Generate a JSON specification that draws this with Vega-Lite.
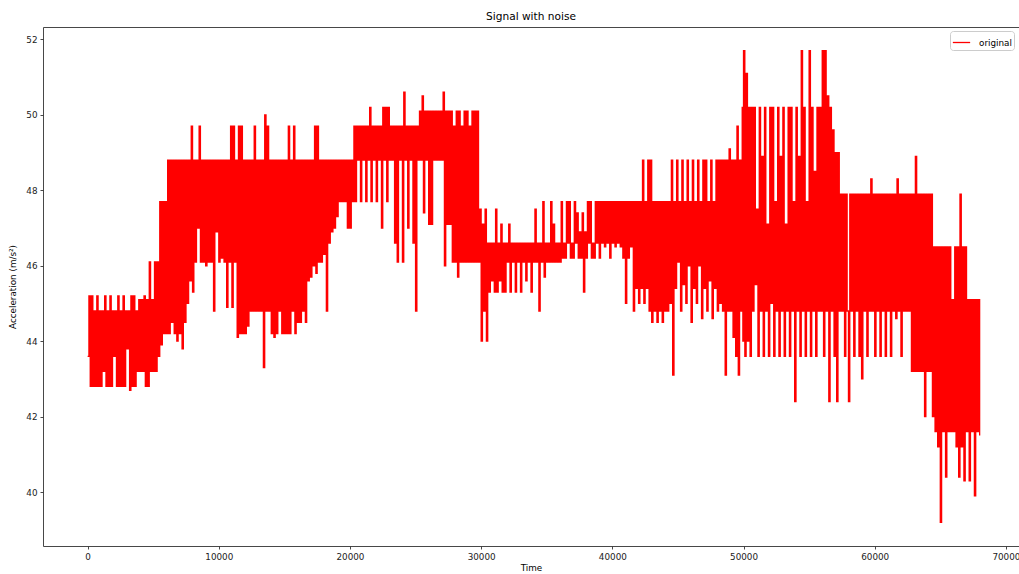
{
  "$schema": "https://vega.github.io/schema/vega-lite/v6.json",
  "width": 976,
  "height": 519,
  "autosize": {"type": "none"},
  "padding": {"left": 43, "top": 27, "right": 0, "bottom": 28},
  "background": "#ffffff",
  "title": {"text": "Signal with noise", "font": "DejaVu Sans", "fontSize": 10.6, "fontWeight": "normal", "color": "#000000", "offset": 4, "anchor": "middle"},
  "config": {
    "view": {"stroke": null},
    "axis": {"grid": false, "domainColor": "#333333", "domainWidth": 0.9, "tickColor": "#333333", "tickWidth": 0.9, "tickSize": 3, "labelFont": "DejaVu Sans", "labelFontSize": 8.8, "labelColor": "#222222", "labelPadding": 3, "titleFont": "DejaVu Sans", "titleFontSize": 8.8, "titleFontWeight": "normal", "titleColor": "#000000"}
  },
  "data": {"values": [
    {"time":0,"acc":43.6},{"time":100,"acc":45.2},{"time":200,"acc":42.8},{"time":300,"acc":45.2},{"time":400,"acc":42.8},{"time":500,"acc":44.8},{"time":600,"acc":42.8},{"time":700,"acc":45.2},{"time":800,"acc":42.8},{"time":900,"acc":44.8},
    {"time":1000,"acc":42.8},{"time":1100,"acc":44.8},{"time":1200,"acc":43.2},{"time":1300,"acc":45.2},{"time":1400,"acc":42.8},{"time":1500,"acc":44.8},{"time":1600,"acc":42.8},{"time":1700,"acc":45.2},{"time":1800,"acc":42.8},{"time":1900,"acc":44.8},
    {"time":2000,"acc":43.6},{"time":2100,"acc":44.8},{"time":2200,"acc":42.8},{"time":2300,"acc":45.2},{"time":2400,"acc":42.8},{"time":2500,"acc":44.8},{"time":2600,"acc":42.8},{"time":2700,"acc":45.2},{"time":2800,"acc":42.8},{"time":2900,"acc":44.8},
    {"time":3000,"acc":43.8},{"time":3100,"acc":44.8},{"time":3200,"acc":42.7},{"time":3300,"acc":45.2},{"time":3400,"acc":42.8},{"time":3500,"acc":45.2},{"time":3600,"acc":42.8},{"time":3700,"acc":44.8},{"time":3800,"acc":43.2},{"time":3900,"acc":45.1},
    {"time":4000,"acc":43.2},{"time":4100,"acc":45.1},{"time":4200,"acc":43.2},{"time":4300,"acc":45.2},{"time":4400,"acc":42.8},{"time":4500,"acc":45.1},{"time":4600,"acc":42.8},{"time":4700,"acc":46.1},{"time":4800,"acc":43.2},{"time":4900,"acc":45.1},
    {"time":5000,"acc":43.2},{"time":5100,"acc":46.1},{"time":5200,"acc":43.2},{"time":5300,"acc":46.1},{"time":5400,"acc":43.6},{"time":5500,"acc":47.7},{"time":5600,"acc":43.9},{"time":5700,"acc":47.7},{"time":5800,"acc":44.2},{"time":5900,"acc":47.7},
    {"time":6000,"acc":44.2},{"time":6100,"acc":48.8},{"time":6200,"acc":44.2},{"time":6300,"acc":48.8},{"time":6400,"acc":44.5},{"time":6500,"acc":48.8},{"time":6600,"acc":44.2},{"time":6700,"acc":48.8},{"time":6800,"acc":44.0},{"time":6900,"acc":48.8},
    {"time":7000,"acc":44.2},{"time":7100,"acc":48.8},{"time":7200,"acc":43.8},{"time":7300,"acc":48.8},{"time":7400,"acc":44.5},{"time":7500,"acc":48.8},{"time":7600,"acc":45.0},{"time":7700,"acc":48.8},{"time":7800,"acc":45.6},{"time":7900,"acc":49.7},
    {"time":8000,"acc":45.3},{"time":8100,"acc":48.8},{"time":8200,"acc":46.1},{"time":8300,"acc":48.8},{"time":8400,"acc":47.0},{"time":8500,"acc":49.7},{"time":8600,"acc":46.1},{"time":8700,"acc":48.8},{"time":8800,"acc":46.1},{"time":8900,"acc":48.8},
    {"time":9000,"acc":46.0},{"time":9100,"acc":48.8},{"time":9200,"acc":46.1},{"time":9300,"acc":48.8},{"time":9400,"acc":46.1},{"time":9500,"acc":48.8},{"time":9600,"acc":44.8},{"time":9700,"acc":48.8},{"time":9800,"acc":46.9},{"time":9900,"acc":48.8},
    {"time":10000,"acc":46.1},{"time":10100,"acc":48.8},{"time":10200,"acc":46.2},{"time":10300,"acc":48.8},{"time":10400,"acc":46.1},{"time":10500,"acc":48.8},{"time":10600,"acc":44.9},{"time":10700,"acc":48.8},{"time":10800,"acc":46.1},{"time":10900,"acc":49.7},
    {"time":11000,"acc":44.9},{"time":11100,"acc":49.7},{"time":11200,"acc":46.1},{"time":11300,"acc":48.8},{"time":11400,"acc":44.1},{"time":11500,"acc":49.7},{"time":11600,"acc":44.2},{"time":11700,"acc":49.7},{"time":11800,"acc":44.2},{"time":11900,"acc":48.8},
    {"time":12000,"acc":44.2},{"time":12100,"acc":48.8},{"time":12200,"acc":44.4},{"time":12300,"acc":48.8},{"time":12400,"acc":44.8},{"time":12500,"acc":48.8},{"time":12600,"acc":44.8},{"time":12700,"acc":49.7},{"time":12800,"acc":44.8},{"time":12900,"acc":48.8},
    {"time":13000,"acc":44.8},{"time":13100,"acc":48.8},{"time":13200,"acc":44.8},{"time":13300,"acc":48.8},{"time":13400,"acc":43.3},{"time":13500,"acc":50.0},{"time":13600,"acc":44.8},{"time":13700,"acc":49.7},{"time":13800,"acc":44.8},{"time":13900,"acc":48.8},
    {"time":14000,"acc":44.2},{"time":14100,"acc":48.8},{"time":14200,"acc":44.1},{"time":14300,"acc":48.8},{"time":14400,"acc":44.2},{"time":14500,"acc":48.8},{"time":14600,"acc":44.8},{"time":14700,"acc":48.8},{"time":14800,"acc":44.2},{"time":14900,"acc":48.8},
    {"time":15000,"acc":44.2},{"time":15100,"acc":48.8},{"time":15200,"acc":44.2},{"time":15300,"acc":49.7},{"time":15400,"acc":44.2},{"time":15500,"acc":48.8},{"time":15600,"acc":44.8},{"time":15700,"acc":49.7},{"time":15800,"acc":44.2},{"time":15900,"acc":48.8},
    {"time":16000,"acc":44.5},{"time":16100,"acc":48.8},{"time":16200,"acc":44.5},{"time":16300,"acc":48.8},{"time":16400,"acc":44.8},{"time":16500,"acc":48.8},{"time":16600,"acc":44.5},{"time":16700,"acc":48.8},{"time":16800,"acc":45.6},{"time":16900,"acc":48.8},
    {"time":17000,"acc":45.7},{"time":17100,"acc":48.8},{"time":17200,"acc":46.0},{"time":17300,"acc":49.7},{"time":17400,"acc":45.8},{"time":17500,"acc":49.7},{"time":17600,"acc":46.1},{"time":17700,"acc":48.8},{"time":17800,"acc":46.1},{"time":17900,"acc":48.8},
    {"time":18000,"acc":46.3},{"time":18100,"acc":48.8},{"time":18200,"acc":44.8},{"time":18300,"acc":48.8},{"time":18400,"acc":46.6},{"time":18500,"acc":48.8},{"time":18600,"acc":46.9},{"time":18700,"acc":48.8},{"time":18800,"acc":47.0},{"time":18900,"acc":48.8},
    {"time":19000,"acc":47.3},{"time":19100,"acc":48.8},{"time":19200,"acc":47.7},{"time":19300,"acc":48.8},{"time":19400,"acc":47.7},{"time":19500,"acc":48.8},{"time":19600,"acc":47.7},{"time":19700,"acc":48.8},{"time":19800,"acc":47.0},{"time":19900,"acc":48.8},
    {"time":20000,"acc":47.0},{"time":20100,"acc":48.8},{"time":20200,"acc":47.7},{"time":20300,"acc":49.7},{"time":20400,"acc":47.7},{"time":20500,"acc":49.7},{"time":20600,"acc":48.8},{"time":20700,"acc":49.7},{"time":20800,"acc":47.7},{"time":20900,"acc":49.7},
    {"time":21000,"acc":48.8},{"time":21100,"acc":49.7},{"time":21200,"acc":47.7},{"time":21300,"acc":49.7},{"time":21400,"acc":48.8},{"time":21500,"acc":50.2},{"time":21600,"acc":47.7},{"time":21700,"acc":49.7},{"time":21800,"acc":48.8},{"time":21900,"acc":49.7},
    {"time":22000,"acc":47.7},{"time":22100,"acc":49.7},{"time":22200,"acc":48.8},{"time":22300,"acc":49.7},{"time":22400,"acc":47.0},{"time":22500,"acc":50.2},{"time":22600,"acc":48.8},{"time":22700,"acc":50.2},{"time":22800,"acc":47.7},{"time":22900,"acc":50.2},
    {"time":23000,"acc":48.8},{"time":23100,"acc":49.7},{"time":23200,"acc":48.8},{"time":23300,"acc":49.7},{"time":23400,"acc":46.6},{"time":23500,"acc":49.7},{"time":23600,"acc":46.1},{"time":23700,"acc":49.7},{"time":23800,"acc":48.8},{"time":23900,"acc":49.7},
    {"time":24000,"acc":46.1},{"time":24100,"acc":50.6},{"time":24200,"acc":48.8},{"time":24300,"acc":49.7},{"time":24400,"acc":47.0},{"time":24500,"acc":49.7},{"time":24600,"acc":48.8},{"time":24700,"acc":49.7},{"time":24800,"acc":46.6},{"time":24900,"acc":49.7},
    {"time":25000,"acc":44.8},{"time":25100,"acc":49.7},{"time":25200,"acc":48.8},{"time":25300,"acc":50.1},{"time":25400,"acc":48.8},{"time":25500,"acc":50.5},{"time":25600,"acc":47.4},{"time":25700,"acc":50.1},{"time":25800,"acc":48.8},{"time":25900,"acc":50.1},
    {"time":26000,"acc":47.1},{"time":26100,"acc":50.1},{"time":26200,"acc":47.1},{"time":26300,"acc":50.1},{"time":26400,"acc":48.8},{"time":26500,"acc":50.1},{"time":26600,"acc":48.8},{"time":26700,"acc":50.1},{"time":26800,"acc":48.8},{"time":26900,"acc":50.1},
    {"time":27000,"acc":48.8},{"time":27100,"acc":50.6},{"time":27200,"acc":46.0},{"time":27300,"acc":50.1},{"time":27400,"acc":47.1},{"time":27500,"acc":50.1},{"time":27600,"acc":47.1},{"time":27700,"acc":50.1},{"time":27800,"acc":46.1},{"time":27900,"acc":49.7},
    {"time":28000,"acc":46.1},{"time":28100,"acc":50.1},{"time":28200,"acc":45.7},{"time":28300,"acc":50.1},{"time":28400,"acc":46.1},{"time":28500,"acc":49.7},{"time":28600,"acc":46.1},{"time":28700,"acc":50.1},{"time":28800,"acc":46.1},{"time":28900,"acc":50.1},
    {"time":29000,"acc":46.1},{"time":29100,"acc":49.7},{"time":29200,"acc":46.1},{"time":29300,"acc":50.1},{"time":29400,"acc":46.1},{"time":29500,"acc":50.1},{"time":29600,"acc":46.1},{"time":29700,"acc":50.1},{"time":29800,"acc":46.1},{"time":29900,"acc":47.5},
    {"time":30000,"acc":44.0},{"time":30100,"acc":47.1},{"time":30200,"acc":44.8},{"time":30300,"acc":47.5},{"time":30400,"acc":44.0},{"time":30500,"acc":46.6},{"time":30600,"acc":45.3},{"time":30700,"acc":46.6},{"time":30800,"acc":45.6},{"time":30900,"acc":46.6},
    {"time":31000,"acc":45.3},{"time":31100,"acc":47.5},{"time":31200,"acc":45.3},{"time":31300,"acc":46.6},{"time":31400,"acc":45.6},{"time":31500,"acc":47.1},{"time":31600,"acc":45.3},{"time":31700,"acc":46.6},{"time":31800,"acc":45.3},{"time":31900,"acc":46.6},
    {"time":32000,"acc":46.1},{"time":32100,"acc":47.1},{"time":32200,"acc":45.3},{"time":32300,"acc":46.6},{"time":32400,"acc":46.1},{"time":32500,"acc":46.6},{"time":32600,"acc":45.3},{"time":32700,"acc":46.6},{"time":32800,"acc":46.1},{"time":32900,"acc":46.6},
    {"time":33000,"acc":45.3},{"time":33100,"acc":46.6},{"time":33200,"acc":46.1},{"time":33300,"acc":46.6},{"time":33400,"acc":45.6},{"time":33500,"acc":46.6},{"time":33600,"acc":46.1},{"time":33700,"acc":46.6},{"time":33800,"acc":45.3},{"time":33900,"acc":46.6},
    {"time":34000,"acc":46.1},{"time":34100,"acc":47.5},{"time":34200,"acc":46.1},{"time":34300,"acc":46.6},{"time":34400,"acc":44.8},{"time":34500,"acc":46.6},{"time":34600,"acc":46.1},{"time":34700,"acc":47.7},{"time":34800,"acc":45.7},{"time":34900,"acc":46.6},
    {"time":35000,"acc":46.1},{"time":35100,"acc":46.6},{"time":35200,"acc":46.1},{"time":35300,"acc":47.7},{"time":35400,"acc":46.1},{"time":35500,"acc":47.1},{"time":35600,"acc":46.1},{"time":35700,"acc":46.6},{"time":35800,"acc":46.1},{"time":35900,"acc":46.6},
    {"time":36000,"acc":46.1},{"time":36100,"acc":47.7},{"time":36200,"acc":46.2},{"time":36300,"acc":46.6},{"time":36400,"acc":46.2},{"time":36500,"acc":47.7},{"time":36600,"acc":46.6},{"time":36700,"acc":47.7},{"time":36800,"acc":46.2},{"time":36900,"acc":46.6},
    {"time":37000,"acc":46.2},{"time":37100,"acc":47.7},{"time":37200,"acc":46.6},{"time":37300,"acc":47.4},{"time":37400,"acc":46.2},{"time":37500,"acc":46.9},{"time":37600,"acc":46.2},{"time":37700,"acc":47.4},{"time":37800,"acc":45.3},{"time":37900,"acc":46.9},
    {"time":38000,"acc":46.2},{"time":38100,"acc":47.7},{"time":38200,"acc":46.6},{"time":38300,"acc":47.7},{"time":38400,"acc":46.2},{"time":38500,"acc":46.6},{"time":38600,"acc":46.2},{"time":38700,"acc":47.7},{"time":38800,"acc":46.6},{"time":38900,"acc":47.7},
    {"time":39000,"acc":46.2},{"time":39100,"acc":47.7},{"time":39200,"acc":46.6},{"time":39300,"acc":47.7},{"time":39400,"acc":46.5},{"time":39500,"acc":47.7},{"time":39600,"acc":46.6},{"time":39700,"acc":47.7},{"time":39800,"acc":46.2},{"time":39900,"acc":47.7},
    {"time":40000,"acc":46.6},{"time":40100,"acc":47.7},{"time":40200,"acc":46.5},{"time":40300,"acc":47.7},{"time":40400,"acc":46.6},{"time":40500,"acc":47.7},{"time":40600,"acc":46.5},{"time":40700,"acc":47.7},{"time":40800,"acc":46.2},{"time":40900,"acc":47.7},
    {"time":41000,"acc":45.0},{"time":41100,"acc":47.7},{"time":41200,"acc":46.2},{"time":41300,"acc":47.7},{"time":41400,"acc":46.5},{"time":41500,"acc":47.7},{"time":41600,"acc":44.8},{"time":41700,"acc":47.7},{"time":41800,"acc":45.4},{"time":41900,"acc":47.7},
    {"time":42000,"acc":45.0},{"time":42100,"acc":47.7},{"time":42200,"acc":45.4},{"time":42300,"acc":48.8},{"time":42400,"acc":45.0},{"time":42500,"acc":47.7},{"time":42600,"acc":45.4},{"time":42700,"acc":48.8},{"time":42800,"acc":44.8},{"time":42900,"acc":48.8},
    {"time":43000,"acc":44.5},{"time":43100,"acc":47.7},{"time":43200,"acc":44.8},{"time":43300,"acc":47.7},{"time":43400,"acc":44.5},{"time":43500,"acc":47.7},{"time":43600,"acc":44.8},{"time":43700,"acc":47.7},{"time":43800,"acc":44.5},{"time":43900,"acc":47.7},
    {"time":44000,"acc":44.8},{"time":44100,"acc":47.7},{"time":44200,"acc":44.8},{"time":44300,"acc":47.7},{"time":44400,"acc":45.0},{"time":44500,"acc":48.8},{"time":44600,"acc":43.1},{"time":44700,"acc":47.7},{"time":44800,"acc":45.4},{"time":44900,"acc":48.8},
    {"time":45000,"acc":46.1},{"time":45100,"acc":47.7},{"time":45200,"acc":44.8},{"time":45300,"acc":48.8},{"time":45400,"acc":45.5},{"time":45500,"acc":47.7},{"time":45600,"acc":45.0},{"time":45700,"acc":48.8},{"time":45800,"acc":46.0},{"time":45900,"acc":47.7},
    {"time":46000,"acc":44.5},{"time":46100,"acc":48.8},{"time":46200,"acc":45.4},{"time":46300,"acc":47.7},{"time":46400,"acc":45.0},{"time":46500,"acc":48.8},{"time":46600,"acc":46.0},{"time":46700,"acc":47.7},{"time":46800,"acc":44.6},{"time":46900,"acc":48.8},
    {"time":47000,"acc":45.4},{"time":47100,"acc":48.8},{"time":47200,"acc":44.8},{"time":47300,"acc":47.7},{"time":47400,"acc":45.6},{"time":47500,"acc":48.8},{"time":47600,"acc":44.6},{"time":47700,"acc":47.7},{"time":47800,"acc":45.4},{"time":47900,"acc":48.8},
    {"time":48000,"acc":44.8},{"time":48100,"acc":48.8},{"time":48200,"acc":45.0},{"time":48300,"acc":48.8},{"time":48400,"acc":44.8},{"time":48500,"acc":48.8},{"time":48600,"acc":43.1},{"time":48700,"acc":48.8},{"time":48800,"acc":44.8},{"time":48900,"acc":49.1},
    {"time":49000,"acc":44.8},{"time":49100,"acc":48.8},{"time":49200,"acc":44.1},{"time":49300,"acc":48.8},{"time":49400,"acc":43.6},{"time":49500,"acc":49.7},{"time":49600,"acc":43.1},{"time":49700,"acc":48.8},{"time":49800,"acc":44.8},{"time":49900,"acc":50.2},
    {"time":49950,"acc":44.0},
    {"time":50000,"acc":51.7},{"time":50100,"acc":43.6},{"time":50200,"acc":51.1},{"time":50300,"acc":44.0},{"time":50400,"acc":50.2},{"time":50500,"acc":43.6},{"time":50600,"acc":50.2},{"time":50700,"acc":44.8},{"time":50800,"acc":50.2},{"time":50900,"acc":45.5},
    {"time":51000,"acc":47.5},{"time":51100,"acc":43.6},{"time":51200,"acc":50.2},{"time":51300,"acc":44.8},{"time":51400,"acc":48.9},{"time":51500,"acc":43.6},{"time":51600,"acc":50.2},{"time":51700,"acc":44.8},{"time":51800,"acc":47.1},{"time":51900,"acc":43.6},
    {"time":52000,"acc":50.2},{"time":52100,"acc":45.0},{"time":52200,"acc":50.2},{"time":52300,"acc":43.6},{"time":52400,"acc":47.7},{"time":52500,"acc":44.8},{"time":52600,"acc":50.2},{"time":52700,"acc":43.6},{"time":52800,"acc":48.9},{"time":52900,"acc":44.8},
    {"time":53000,"acc":50.2},{"time":53100,"acc":43.6},{"time":53200,"acc":47.1},{"time":53300,"acc":44.8},{"time":53400,"acc":50.2},{"time":53500,"acc":43.6},{"time":53600,"acc":50.2},{"time":53700,"acc":44.8},{"time":53800,"acc":47.7},{"time":53900,"acc":42.4},
    {"time":54000,"acc":50.2},{"time":54100,"acc":44.8},{"time":54200,"acc":48.9},{"time":54300,"acc":43.6},{"time":54400,"acc":51.7},{"time":54500,"acc":44.8},{"time":54600,"acc":50.2},{"time":54700,"acc":43.6},{"time":54800,"acc":47.7},{"time":54900,"acc":44.8},
    {"time":55000,"acc":51.7},{"time":55100,"acc":43.6},{"time":55200,"acc":50.2},{"time":55300,"acc":44.8},{"time":55400,"acc":48.5},{"time":55500,"acc":43.6},{"time":55600,"acc":50.2},{"time":55700,"acc":44.8},{"time":55800,"acc":50.2},{"time":55900,"acc":44.8},
    {"time":56000,"acc":51.7},{"time":56100,"acc":43.6},{"time":56200,"acc":51.7},{"time":56300,"acc":44.8},{"time":56400,"acc":50.5},{"time":56500,"acc":42.4},{"time":56600,"acc":50.2},{"time":56700,"acc":44.8},{"time":56800,"acc":49.6},{"time":56900,"acc":43.6},
    {"time":57000,"acc":49.0},{"time":57100,"acc":42.4},{"time":57200,"acc":49.0},{"time":57300,"acc":44.8},{"time":57400,"acc":47.9},{"time":57500,"acc":44.8},{"time":57600,"acc":47.9},{"time":57700,"acc":43.6},{"time":57800,"acc":47.9},{"time":57900,"acc":44.8},
    {"time":58000,"acc":42.4},{"time":58100,"acc":47.9},{"time":58200,"acc":44.8},{"time":58300,"acc":47.9},{"time":58400,"acc":43.6},{"time":58500,"acc":47.9},{"time":58600,"acc":44.8},{"time":58700,"acc":47.9},{"time":58800,"acc":43.6},{"time":58900,"acc":47.9},
    {"time":59000,"acc":43.0},{"time":59100,"acc":47.9},{"time":59200,"acc":44.8},{"time":59300,"acc":47.9},{"time":59400,"acc":43.6},{"time":59500,"acc":47.9},{"time":59600,"acc":44.8},{"time":59700,"acc":48.3},{"time":59800,"acc":44.8},{"time":59900,"acc":47.9},
    {"time":60000,"acc":43.6},{"time":60100,"acc":47.9},{"time":60200,"acc":44.8},{"time":60300,"acc":47.9},{"time":60400,"acc":43.6},{"time":60500,"acc":47.9},{"time":60600,"acc":44.8},{"time":60700,"acc":47.9},{"time":60800,"acc":43.6},{"time":60900,"acc":47.9},
    {"time":61000,"acc":44.8},{"time":61100,"acc":47.9},{"time":61200,"acc":43.6},{"time":61300,"acc":47.9},{"time":61400,"acc":44.8},{"time":61500,"acc":47.9},{"time":61600,"acc":44.6},{"time":61700,"acc":48.3},{"time":61800,"acc":44.8},{"time":61900,"acc":47.9},
    {"time":62000,"acc":43.6},{"time":62100,"acc":47.9},{"time":62200,"acc":44.8},{"time":62300,"acc":47.9},{"time":62400,"acc":44.8},{"time":62500,"acc":47.9},{"time":62600,"acc":44.8},{"time":62700,"acc":47.9},{"time":62800,"acc":43.2},{"time":62900,"acc":47.9},
    {"time":63000,"acc":43.2},{"time":63100,"acc":48.9},{"time":63200,"acc":43.2},{"time":63300,"acc":47.9},{"time":63400,"acc":43.2},{"time":63500,"acc":47.9},{"time":63600,"acc":43.2},{"time":63700,"acc":47.9},{"time":63800,"acc":42.0},{"time":63900,"acc":47.9},
    {"time":64000,"acc":43.2},{"time":64100,"acc":47.9},{"time":64200,"acc":43.2},{"time":64300,"acc":47.9},{"time":64400,"acc":42.0},{"time":64500,"acc":46.5},{"time":64600,"acc":41.6},{"time":64700,"acc":46.5},{"time":64800,"acc":41.2},{"time":64900,"acc":46.5},
    {"time":65000,"acc":39.2},{"time":65100,"acc":46.5},{"time":65200,"acc":41.6},{"time":65300,"acc":46.5},{"time":65400,"acc":40.4},{"time":65500,"acc":46.5},{"time":65600,"acc":41.6},{"time":65700,"acc":46.5},{"time":65800,"acc":41.6},{"time":65900,"acc":45.1},
    {"time":66000,"acc":41.6},{"time":66100,"acc":46.5},{"time":66200,"acc":41.2},{"time":66300,"acc":46.5},{"time":66400,"acc":40.4},{"time":66500,"acc":47.9},{"time":66600,"acc":41.2},{"time":66700,"acc":46.5},{"time":66800,"acc":40.3},{"time":66900,"acc":46.5},
    {"time":67000,"acc":41.6},{"time":67100,"acc":45.1},{"time":67200,"acc":40.3},{"time":67300,"acc":45.1},{"time":67400,"acc":41.6},{"time":67500,"acc":45.1},{"time":67600,"acc":39.9},{"time":67700,"acc":45.1},{"time":67800,"acc":41.6},{"time":67900,"acc":45.1},
    {"time":68000,"acc":41.5}
  ]},
  "layer": [
    {
      "mark": {"type": "line", "strokeWidth": 1.3, "interpolate": "step-after"},
      "encoding": {
        "x": {"field": "time", "type": "quantitative", "scale": {"domain": [-3400, 71000], "nice": false, "zero": false},
              "axis": {"title": "Time", "values": [0, 10000, 20000, 30000, 40000, 50000, 60000, 70000], "format": "d", "titlePadding": 3}},
        "y": {"field": "acc", "type": "quantitative", "scale": {"domain": [38.57, 52.33], "nice": false, "zero": false},
              "axis": {"title": "Acceleration (m/s²)", "values": [40, 42, 44, 46, 48, 50, 52], "titlePadding": 8}},
        "color": {"datum": "original", "scale": {"range": ["#ff0000"]},
                  "legend": {"title": null, "orient": "none", "legendX": 907, "legendY": 4, "symbolType": "stroke", "symbolSize": 300, "symbolStrokeWidth": 1.3,
                             "labelFont": "DejaVu Sans", "labelFontSize": 8.8, "labelColor": "#000000", "labelOffset": 8, "padding": 2,
                             "strokeColor": "#cccccc", "cornerRadius": 3, "fillColor": "#ffffff"}}
      }
    },
    {
      "mark": {"type": "point", "opacity": 0},
      "encoding": {
        "x": {"field": "time", "type": "quantitative", "axis": {"orient": "top", "labels": false, "ticks": false, "title": null, "domain": true}}
      }
    }
  ],
  "resolve": {"axis": {"x": "independent"}}
}
